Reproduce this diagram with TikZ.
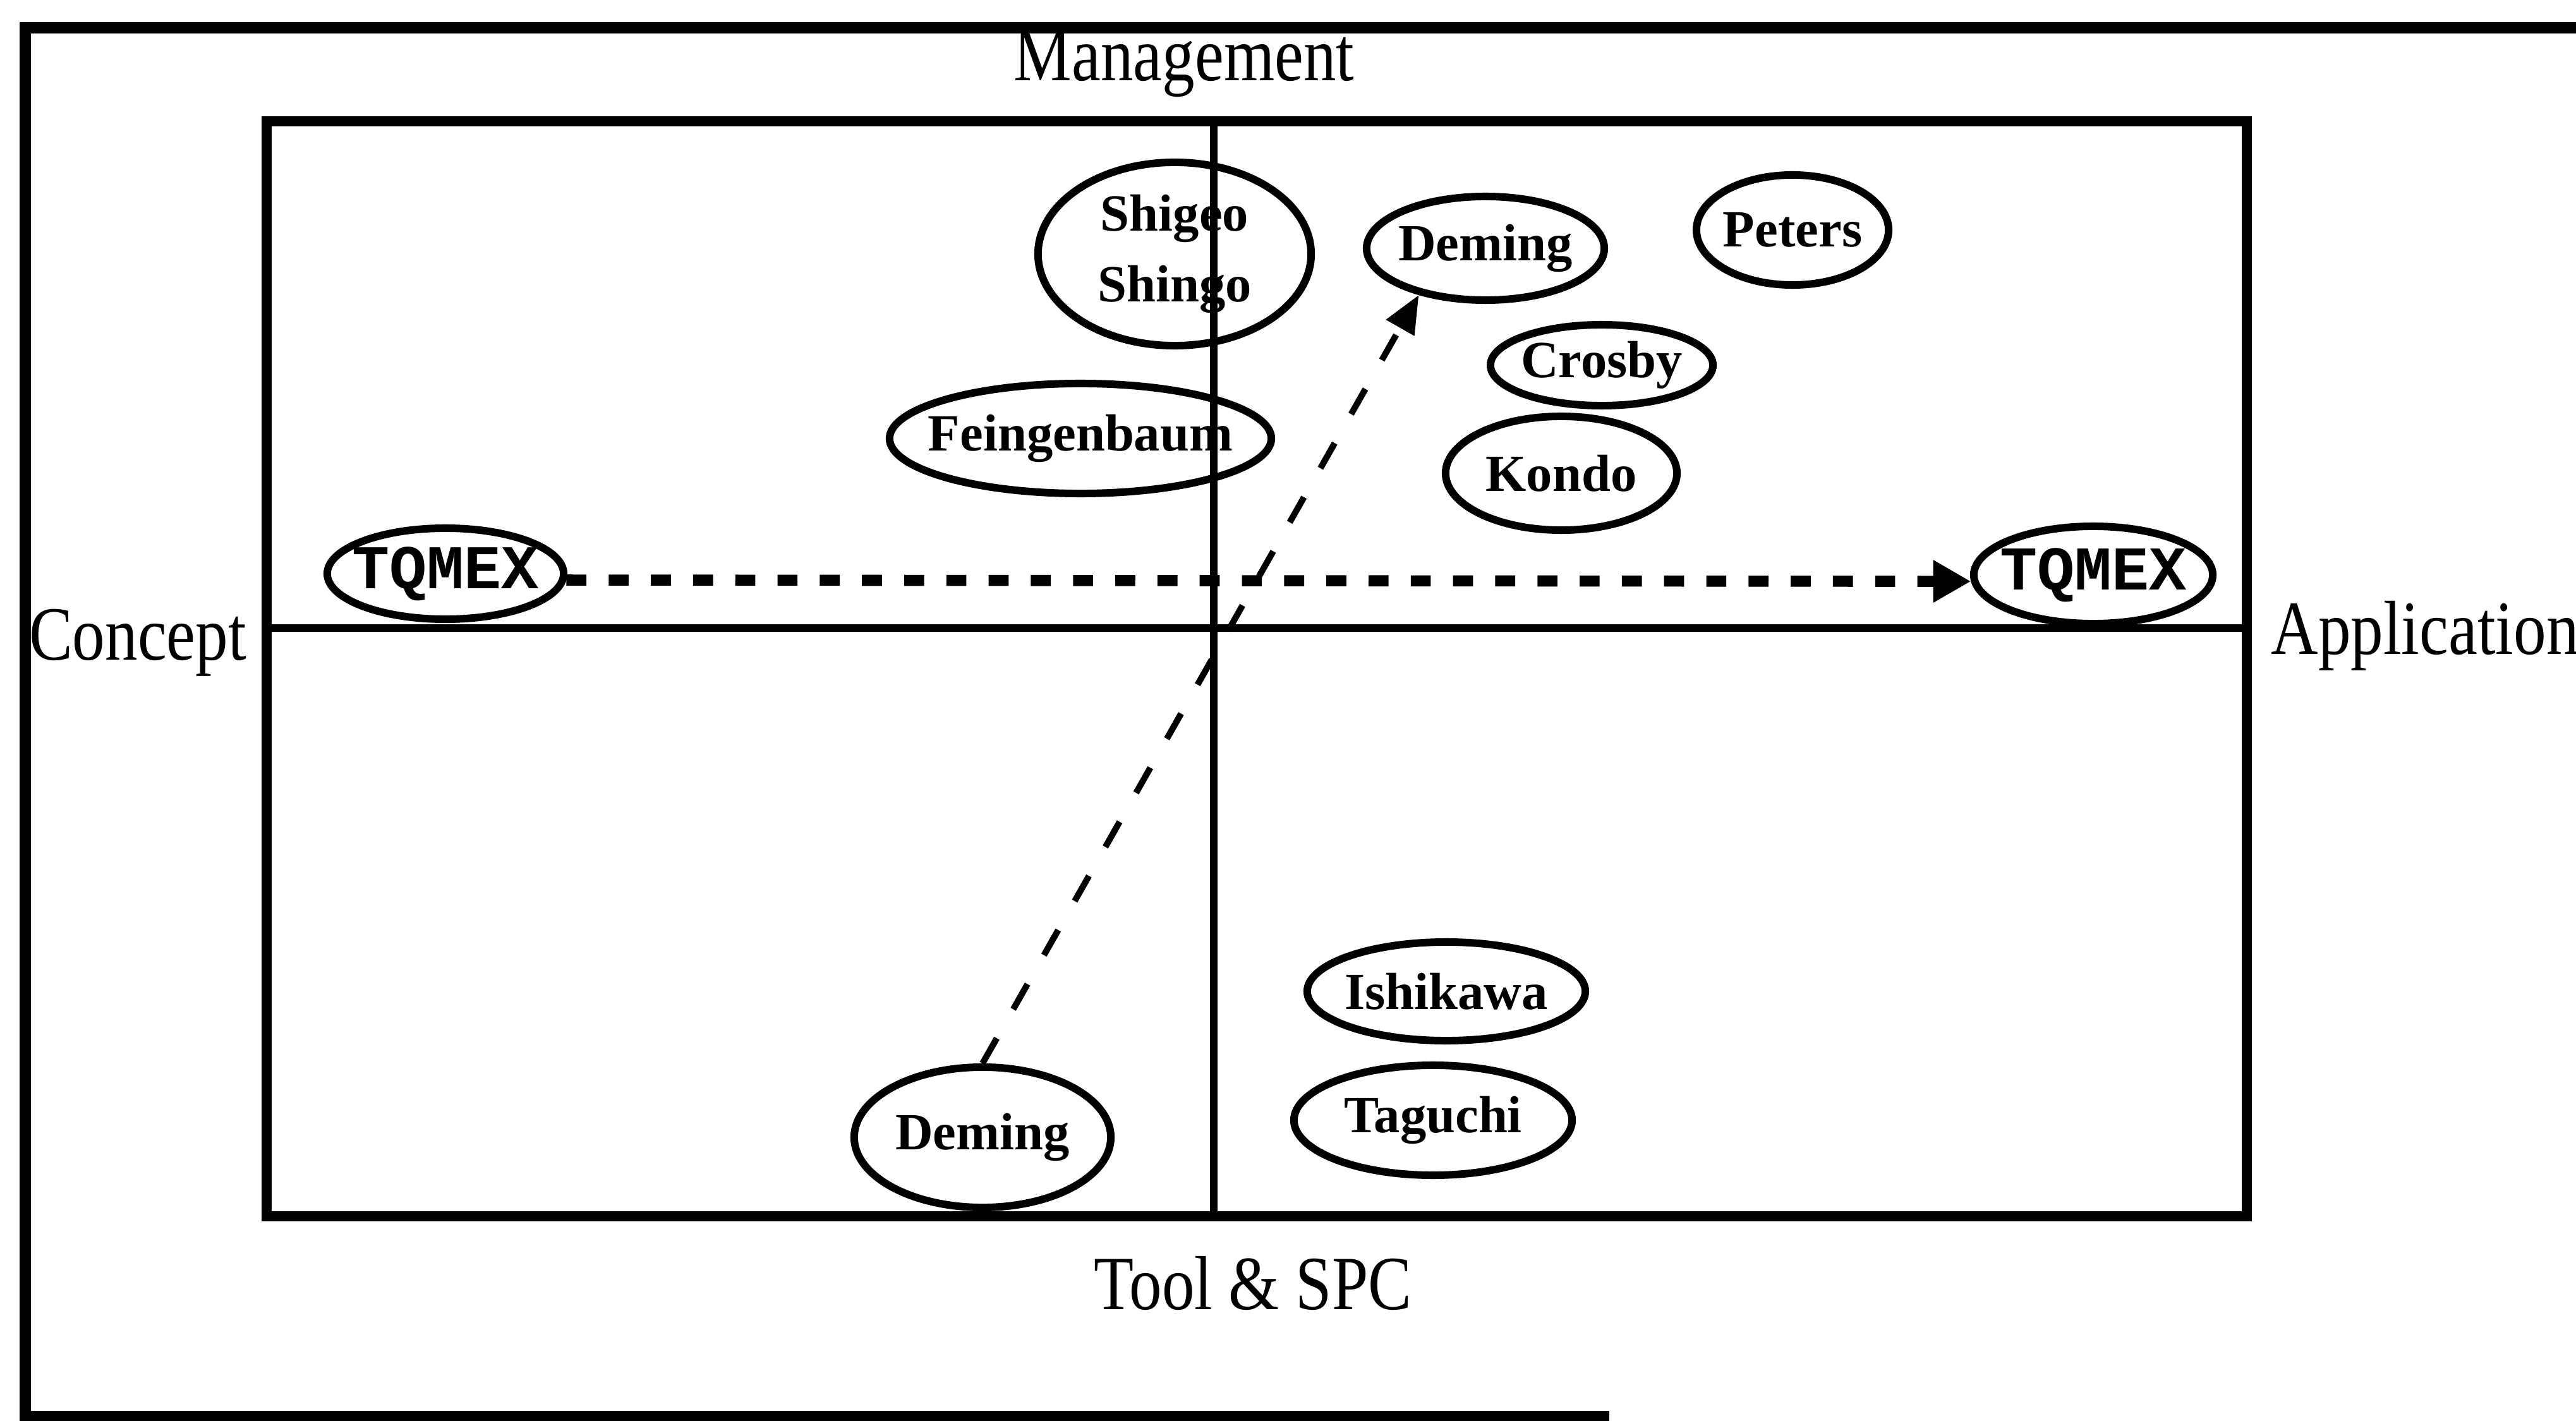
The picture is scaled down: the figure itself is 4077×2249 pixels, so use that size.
\documentclass[tikz,border=0pt]{standalone}
\usepackage{fontspec}
\setmainfont{Liberation Serif}
\newfontfamily\axisfont[FakeStretch=0.85]{Liberation Serif}
\newfontfamily\tagfont{Liberation Mono}
\usetikzlibrary{shapes.geometric,arrows.meta}
\begin{document}
\begin{tikzpicture}[x=0.01cm,y=-0.01cm,
  frameline/.style={line width=5pt},
  boxline/.style={line width=4.3pt},
  axisline/.style={line width=3.6pt},
  person/.style={ellipse,draw,line width=3.4pt,inner sep=0pt},
  who/.style={font=\bfseries\fontsize{23.5}{32}\selectfont,align=center,inner sep=0pt},
  tag/.style={font=\tagfont\bfseries\fontsize{28}{34}\selectfont,inner sep=0pt},
  axislabel/.style={font=\axisfont\fontsize{34.5}{40}\selectfont,inner sep=0pt},
  hflow/.style={line width=5pt,dash pattern=on 9pt off 10pt,-{Triangle[length=17pt,width=18pt]}},
  dflow/.style={line width=2.8pt,dash pattern=on 13pt off 15pt,-{Triangle[length=17pt,width=14pt]}},
]
\useasboundingbox (0,0) rectangle (4077,2249);

% outer frame (open on the right)
\coordinate (ob) at (2547,2242);
\coordinate (obl) at (40,2242);
\coordinate (otl) at (40,44);
\coordinate (otr) at (4077,44);
\draw[frameline] (ob) -- (obl) -- (otl) -- (otr);

% quadrant box and axes
\coordinate (btl) at (422,192);
\coordinate (bbr) at (3556,1925);
\draw[boxline] (btl) rectangle (bbr);
\coordinate (vt) at (1921,192);
\coordinate (vb) at (1921,1925);
\coordinate (hl) at (422,994);
\coordinate (hr) at (3556,994);
\draw[axisline] (vt) -- (vb);
\draw[axisline] (hl) -- (hr);

% axis labels
\node[axislabel,anchor=base] (mgmt) at (1874,128) {Management};
\node[axislabel,anchor=base] (concept) at (218,1045) {Concept};
\node[axislabel,anchor=base west] (appl) at (3594,1035) {Application};
\node[axislabel,anchor=base] (tool) at (1983,2072) {Tool \& SPC};

% people
\node[person,minimum width=4.32cm,minimum height=2.90cm,label={[who]center:Shigeo\\Shingo}] (shingo) at (1859,402) {};
\node[person,minimum width=3.76cm,minimum height=1.64cm,label={[who]center:Deming}] (dem1) at (2351,393) {};
\node[person,minimum width=3.04cm,minimum height=1.74cm,label={[who]center:Peters}] (peters) at (2837,364) {};
\node[person,minimum width=3.52cm,minimum height=1.28cm,label={[who]center:Crosby}] (crosby) at (2535,578) {};
\node[person,minimum width=3.66cm,minimum height=1.80cm,label={[who]center:Kondo}] (kondo) at (2471,749) {};
\node[person,minimum width=6.04cm,minimum height=1.74cm,label={[who]center:Feingenbaum}] (feig) at (1710,694) {};
\node[person,minimum width=4.40cm,minimum height=1.56cm,label={[who]center:Ishikawa}] (ishi) at (2289,1569) {};
\node[person,minimum width=4.40cm,minimum height=1.74cm,label={[who]center:Taguchi}] (tagu) at (2268,1773) {};
\node[person,minimum width=4.06cm,minimum height=2.22cm,label={[who]center:Deming}] (dem2) at (1555,1800) {};

% TQMEX positions
\node[person,minimum width=3.74cm,minimum height=1.44cm,label={[tag]center:TQMEX}] (tq1) at (705,908) {};
\node[person,minimum width=3.78cm,minimum height=1.54cm,label={[tag]center:TQMEX}] (tq2) at (3313,910) {};

% movements
\draw[hflow] (tq1.-3) -- (tq2.183);
\draw[dflow] (dem2.north) -- (dem1.215);
\end{tikzpicture}
\end{document}
